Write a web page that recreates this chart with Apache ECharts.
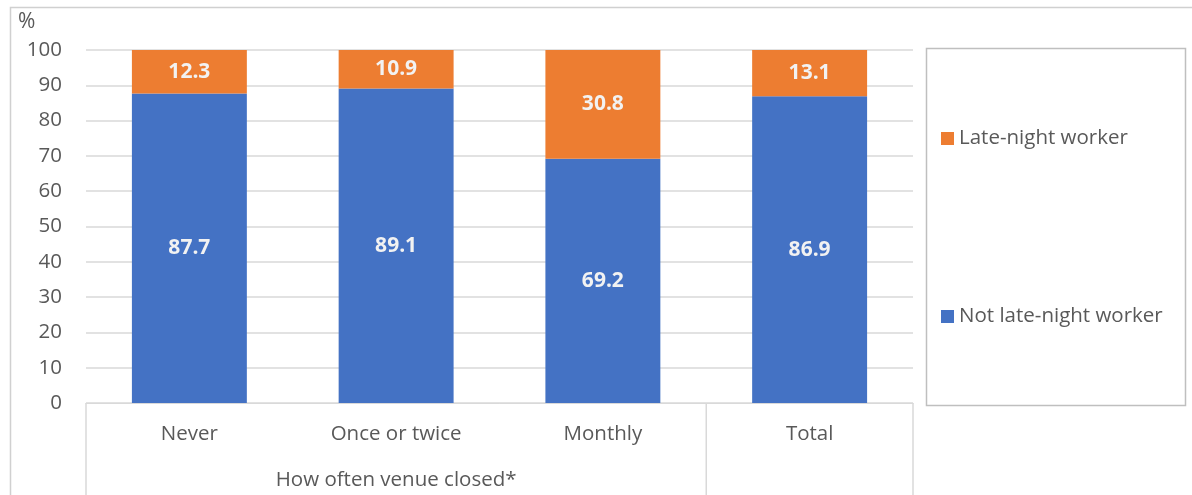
<!DOCTYPE html>
<html><head><meta charset="utf-8">
<script src="https://cdn.jsdelivr.net/npm/echarts@6/dist/echarts.min.js"></script>
<style>html,body{margin:0;padding:0;background:#fff}#c{width:1192px;height:495px}</style>
</head><body><div id="c"></div>
<script>
const categories = ['Never', 'Once or twice', 'Monthly', 'Total'];
const groupLabels = ['', 'How often venue closed*', '', ''];
const notLateNight = [87.7, 89.1, 69.2, 86.9];
const lateNight = [12.3, 10.9, 30.8, 13.1];
const seriesNames = ['Not late-night worker', 'Late-night worker'];
const yTicks = [0, 10, 20, 30, 40, 50, 60, 70, 80, 90, 100];

const FONT = 'Open Sans';
const chart = echarts.init(document.getElementById('c'), null, {renderer: 'canvas'});
const labelStyle = {show: true, position: 'inside', color: '#f2f2f2', fontFamily: FONT, fontSize: 21, fontWeight: 'bold', formatter: p => p.value.toFixed(1)};

chart.setOption({
  animation: false,
  textStyle: {fontFamily: FONT},
  grid: {left: 86, right: 279, top: 50, bottom: 92, containLabel: false},
  legend: {
    orient: 'vertical', left: 936, top: 123, itemGap: 157, itemWidth: 13, itemHeight: 13,
    icon: 'rect', data: ['Late-night worker', 'Not late-night worker'],
    textStyle: {color: '#595959', fontSize: 20.5, fontFamily: FONT}
  },
  xAxis: [{
    type: 'category', data: categories, position: 'bottom',
    axisLine: {show: true, lineStyle: {color: '#d9d9d9', width: 1}},
    axisTick: {show: false},
    axisLabel: {color: '#595959', fontSize: 20.5, fontFamily: FONT, margin: 21}
  }, {
    type: 'category', data: groupLabels, position: 'bottom', offset: 0,
    axisLine: {show: false}, axisTick: {show: false},
    axisLabel: {color: '#595959', fontSize: 20.5, fontFamily: FONT, margin: 67, interval: 0}
  }],
  yAxis: {
    type: 'value', min: 0, max: 100, interval: 10, name: '%', nameLocation: 'end',
    nameGap: 17, nameTextStyle: {color: '#595959', fontSize: 21, fontFamily: FONT, align: 'left', padding: [0, 0, 0, -68]},
    axisLine: {show: false}, axisTick: {show: false},
    axisLabel: {color: '#595959', fontSize: 20.5, fontFamily: FONT, margin: 24, formatter: v => yTicks.includes(v) ? String(v) : ''},
    splitLine: {lineStyle: {color: '#d9d9d9', width: 1.5}}
  },
  series: [{
    name: seriesNames[0], type: 'bar', stack: 's', data: notLateNight, barWidth: '55.6%',
    itemStyle: {color: '#4472C4'}, label: labelStyle
  }, {
    name: seriesNames[1], type: 'bar', stack: 's', data: lateNight, barWidth: '55.6%',
    itemStyle: {color: '#ED7D31'}, label: labelStyle
  }]
});

// structural lines for the hierarchical category axis, derived from the axis scale
const c0 = chart.convertToPixel({xAxisIndex: 0}, categories[0]);
const c1 = chart.convertToPixel({xAxisIndex: 0}, categories[1]);
const band = c1 - c0;
const y0 = chart.convertToPixel({yAxisIndex: 0}, 0);
const left = c0 - band / 2;
const split = chart.convertToPixel({xAxisIndex: 0}, categories[2]) + band / 2;
const right = chart.convertToPixel({xAxisIndex: 0}, categories[3]) + band / 2;
const vline = x => ({type: 'line', shape: {x1: x, y1: y0, x2: x, y2: 500}, style: {stroke: '#d9d9d9', lineWidth: 1.5}, silent: true});
chart.setOption({
  graphic: [
    {type: 'rect', shape: {x: 10.5, y: 7.5, width: 1200, height: 520}, style: {fill: 'none', stroke: '#d0d0d0', lineWidth: 1.5}, silent: true, z: -1},
    {type: 'rect', shape: {x: 926.5, y: 48.5, width: 259, height: 357}, style: {fill: 'none', stroke: '#bfbfbf', lineWidth: 1.5}, silent: true},
    vline(left), vline(split), vline(right)
  ]
});
</script></body></html>
